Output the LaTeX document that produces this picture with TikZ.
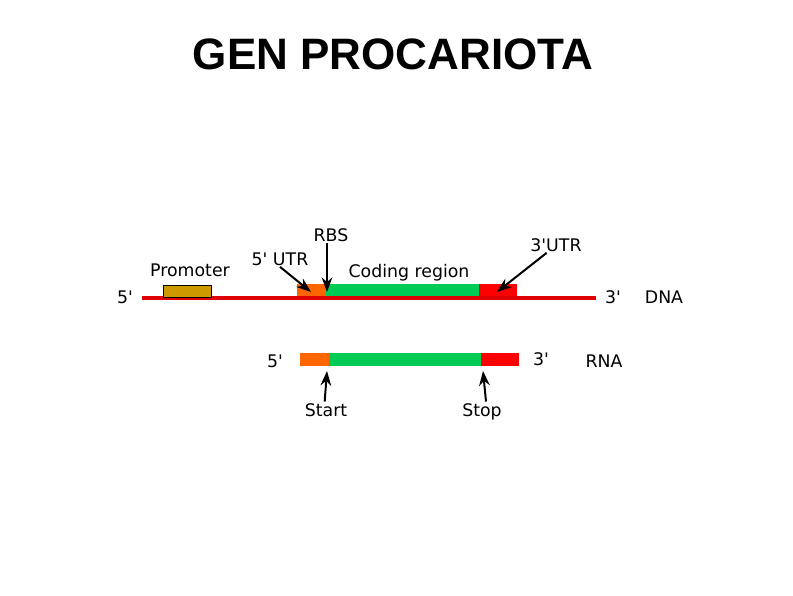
\documentclass[tikz,border=0pt]{standalone}
\usepackage{fontspec}
\setmainfont{DejaVu Sans}
\newfontfamily\titlefont{Liberation Sans}
\usepackage{tikz}
\usetikzlibrary{arrows.meta}
\definecolor{promcol}{RGB}{204,153,0}
\definecolor{utrorange}{RGB}{255,102,0}
\definecolor{codegreen}{RGB}{0,204,85}
\definecolor{utrred}{RGB}{255,0,0}
\definecolor{dnared}{RGB}{225,0,0}
\newcommand{\pr}{\textquotesingle}

\begin{document}
\begin{tikzpicture}[x=0.75pt,y=-0.75pt,
  lbl/.style={font=\fontsize{13}{15}\selectfont,inner sep=1pt,anchor=base},
  ptr/.style={-{Stealth[length=11pt,width=8pt]},line width=1.5pt,black}]
  \useasboundingbox (0,0) rectangle (793,596);

  % Title
  \node (title) at (393,54) {\titlefont\bfseries\fontsize{33}{38}\selectfont GEN PROCARIOTA};

  % DNA strand
  \fill[utrorange] (297,284) rectangle (326,298);
  \fill[codegreen] (326,284) rectangle (479,298);
  \fill[utrred] (479,284) rectangle (517,298);
  \draw[dnared,line width=2.6pt] (142,298) -- (596,298);
  \draw[fill=promcol,line width=0.7pt] (163,285) rectangle (211,297);
  \coordinate (utr5tip) at (311,292);
  \coordinate (rbstip) at (327,292);
  \coordinate (utr3tip) at (497,292);

  \node[lbl] (dna5) at (125,303) {5\pr};
  \node[lbl] (dna3) at (613,303) {3\pr};
  \node[lbl] (dnalbl) at (664,303) {DNA};
  \node[lbl] (promlbl) at (190,276) {Promoter};
  \node[lbl] (utr5lbl) at (280,265) {5\pr{} UTR};
  \node[lbl] (rbslbl) at (331,241) {RBS};
  \node[lbl] (codelbl) at (409,277) {Coding region};
  \node[lbl] (utr3lbl) at (556,251) {3\pr UTR};

  \draw[ptr] (utr5lbl.south) -- (utr5tip);
  \draw[ptr] ([xshift=-3pt]rbslbl.south) -- (rbstip);
  \draw[ptr] ([xshift=-7pt]utr3lbl.south) -- (utr3tip);

  % RNA strand
  \fill[utrorange] (300,353) rectangle (329,366);
  \fill[codegreen] (329,353) rectangle (481,366);
  \fill[utrred] (481,353) rectangle (519,366);
  \coordinate (starttip) at (327,371);
  \coordinate (stoptip) at (483,371);

  \node[lbl] (rna5) at (275,367) {5\pr};
  \node[lbl] (rna3) at (541,365) {3\pr};
  \node[lbl] (rnalbl) at (604,367) {RNA};
  \node[lbl] (startlbl) at (326,416) {Start};
  \node[lbl] (stoplbl) at (482,416) {Stop};

  \draw[ptr] ([xshift=-1pt]startlbl.north) -- (starttip);
  \draw[ptr] ([xshift=3pt]stoplbl.north) -- (stoptip);
\end{tikzpicture}
\end{document}
